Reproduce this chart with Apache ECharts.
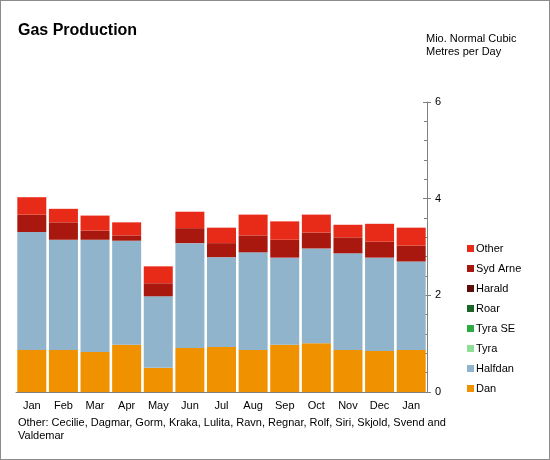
<!DOCTYPE html>
<html><head><meta charset="utf-8">
<script src="https://cdn.jsdelivr.net/npm/echarts@6/dist/echarts.min.js"></script>
<style>html,body{margin:0;padding:0;background:#fff}#c{width:548px;height:458px;border:1px solid #8c8c8c}</style>
</head><body><div id="c"></div>
<script>
const months = ['Jan','Feb','Mar','Apr','May','Jun','Jul','Aug','Sep','Oct','Nov','Dec','Jan'];
const dan     = [0.87,0.87,0.83,0.98,0.50,0.91,0.93,0.87,0.98,1.01,0.87,0.85,0.87];
const halfdan = [2.44,2.28,2.32,2.15,1.48,2.17,1.86,2.02,1.80,1.96,2.00,1.93,1.83];
const tyra    = [0,0,0,0,0,0,0,0,0,0,0,0,0];
const tyraSE  = [0,0,0,0,0,0,0,0,0,0,0,0,0];
const roar    = [0,0,0,0,0,0,0,0,0,0,0,0,0];
const harald  = [0,0,0,0,0,0,0,0,0,0,0,0,0];
const sydArne = [0.36,0.36,0.19,0.11,0.27,0.31,0.29,0.35,0.37,0.33,0.33,0.33,0.33];
const other   = [0.36,0.28,0.31,0.27,0.35,0.34,0.32,0.43,0.38,0.37,0.26,0.37,0.37];
const yTicks = [0,2,4,6];

const names = ['Dan','Halfdan','Tyra','Tyra SE','Roar','Harald','Syd Arne','Other'];
const colors = ['#F09100','#8FB4CC','#8FDE96','#2EAA44','#1D6428','#5E0E0A','#A8180F','#E82A18'];
const datas = [dan,halfdan,tyra,tyraSE,roar,harald,sydArne,other];
const font = 'Arial, "Liberation Sans", sans-serif';

const chart = echarts.init(document.getElementById('c'));
chart.setOption({
  animation:false,
  textStyle:{fontFamily:font},
  title:[
    {text:'Gas Production', left:12, top:17, textStyle:{fontSize:16, fontWeight:'bold', color:'#000', fontFamily:font}},
    {text:'Mio. Normal Cubic\nMetres per Day', left:420, top:26, textStyle:{fontSize:11, fontWeight:'normal', color:'#000', lineHeight:13, fontFamily:font}},
    {text:'Other: Cecilie, Dagmar, Gorm, Kraka, Lulita, Ravn, Regnar, Rolf, Siri, Skjold, Svend and\nValdemar', left:12, top:410, textStyle:{fontSize:11, fontWeight:'normal', color:'#000', lineHeight:13, fontFamily:font}}
  ],
  legend:{
    orient:'vertical', left:461, top:237, itemWidth:7, itemHeight:7, itemGap:9,
    icon:'rect', data:names.slice().reverse(),
    textStyle:{fontSize:11, color:'#000', padding:[0,0,0,-3], fontFamily:font}
  },
  grid:{left:15, right:122, top:101, bottom:67},
  xAxis:{
    type:'category', data:months,
    axisLine:{lineStyle:{color:'#808080'}},
    axisTick:{length:4, lineStyle:{color:'#808080'}},
    axisLabel:{color:'#000', fontSize:11, margin:8, fontFamily:font}
  },
  yAxis:[{
    type:'value', position:'right', min:0, max:6, interval:2,
    axisLine:{show:true, lineStyle:{color:'#808080'}},
    axisTick:{show:true, inside:true, length:4, lineStyle:{color:'#808080'}},
    minorTick:{show:true, splitNumber:5, length:3, lineStyle:{color:'#808080'}},
    axisLabel:{color:'#000', fontSize:11, margin:8, fontFamily:font,
      formatter:v=>yTicks.includes(v)?String(v):''},
    splitLine:{show:false}
  },{
    type:'value', position:'right', min:0, max:6, interval:2,
    axisLine:{show:false}, axisLabel:{show:false},
    axisTick:{show:true, length:4, lineStyle:{color:'#808080'}},
    splitLine:{show:false}
  }],
  series: names.map((n,i)=>({
    name:n, type:'bar', stack:'g', data:datas[i], barWidth:29,
    itemStyle:{color:colors[i]}
  }))
});
</script></body></html>
